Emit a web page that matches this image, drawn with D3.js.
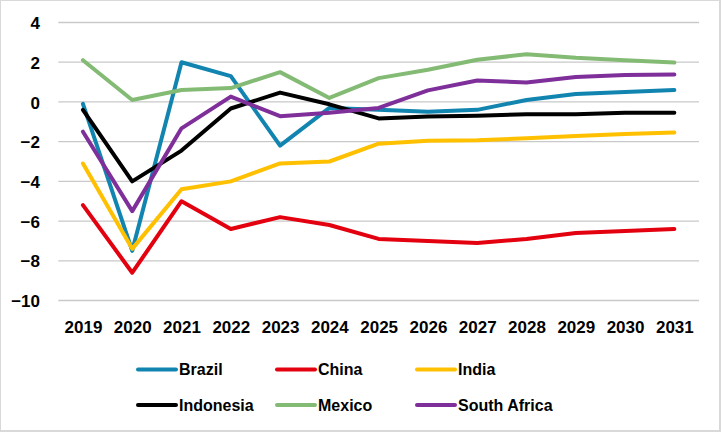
<!DOCTYPE html>
<html>
<head>
<meta charset="utf-8">
<script src="https://cdn.jsdelivr.net/npm/d3@7"></script>
<style>
  html, body { margin: 0; padding: 0; background: #fff; }
  svg { display: block; }
  text { font-family: "Liberation Sans", Arial, sans-serif; font-weight: bold; fill: #000; }
</style>
</head>
<body>
<svg id="chart" width="721" height="433"></svg>
<script>
const years = ["2019","2020","2021","2022","2023","2024","2025","2026","2027","2028","2029","2030","2031"];
const brazil      = [-0.1, -7.5, 2.0, 1.3, -2.2, -0.3, -0.4, -0.5, -0.4, 0.1, 0.4, 0.5, 0.6];
const china       = [-5.2, -8.6, -5.0, -6.4, -5.8, -6.2, -6.9, -7.0, -7.1, -6.9, -6.6, -6.5, -6.4];
const india       = [-3.1, -7.4, -4.4, -4.0, -3.1, -3.0, -2.1, -1.95, -1.93, -1.83, -1.71, -1.62, -1.54];
const indonesia   = [-0.4, -4.0, -2.45, -0.33, 0.47, -0.12, -0.83, -0.74, -0.7, -0.62, -0.62, -0.55, -0.55];
const mexico      = [2.1, 0.1, 0.6, 0.7, 1.5, 0.2, 1.2, 1.62, 2.12, 2.4, 2.22, 2.1, 1.98];
const southAfrica = [-1.5, -5.5, -1.33, 0.27, -0.72, -0.55, -0.3, 0.58, 1.08, 0.98, 1.26, 1.36, 1.38];
const yTicks = [4, 2, 0, -2, -4, -6, -8, -10];

const seriesNames  = ["Brazil", "China", "India", "Indonesia", "Mexico", "South Africa"];
const seriesValues = [brazil, china, india, indonesia, mexico, southAfrica];
const seriesColors = ["#1184B0", "#E3000F", "#FFC000", "#000000", "#84BB74", "#7F2F9A"];

const svg = d3.select("#chart");

// outer border
svg.append("rect").attr("x", 0).attr("y", 0).attr("width", 720).attr("height", 431)
  .attr("fill", "#fff").attr("stroke", "#D9D9D9").attr("stroke-width", 2);

const plotLeft = 58.3, plotRight = 699, yTop = 22.5, yBottom = 300.5;

const x = d3.scalePoint().domain(years).range([plotLeft, plotRight]).padding(0.5);
const y = d3.scaleLinear().domain([-10, 4]).range([yBottom, yTop]);

// gridlines
svg.append("g").selectAll("line").data(yTicks).join("line")
  .attr("x1", plotLeft).attr("x2", plotRight)
  .attr("y1", d => y(d)).attr("y2", d => y(d))
  .attr("stroke", "#C9C9C9").attr("stroke-width", 1.3);

// y axis labels
const yAxis = d3.axisLeft(y).tickValues(yTicks).tickSize(0).tickPadding(0).tickFormat(d3.format("d"));
const yg = svg.append("g").attr("transform", "translate(40,0)").call(yAxis);
yg.select(".domain").remove();
yg.selectAll("text").attr("font-size", 17).attr("font-family", "Liberation Sans, Arial, sans-serif")
  .attr("font-weight", "bold").attr("fill", "#000").attr("dy", "0.36em");

// x axis labels
const xAxis = d3.axisBottom(x).tickSize(0).tickPadding(0);
const xg = svg.append("g").attr("transform", "translate(0,320)").call(xAxis);
xg.select(".domain").remove();
xg.selectAll("text").attr("font-size", 17).attr("font-family", "Liberation Sans, Arial, sans-serif")
  .attr("font-weight", "bold").attr("fill", "#000").attr("dy", "0.35em").attr("y", 7);

// lines
const line = d3.line().x((d, i) => x(years[i])).y(d => y(d));
svg.append("g").selectAll("path").data(seriesValues).join("path")
  .attr("d", d => line(d))
  .attr("fill", "none")
  .attr("stroke", (d, i) => seriesColors[i])
  .attr("stroke-width", 4)
  .attr("stroke-linejoin", "round")
  .attr("stroke-linecap", "round");

// legend
const legX = [138, 277, 417];
const legY = [369.5, 405];
const leg = svg.append("g").selectAll("g").data(seriesNames).join("g")
  .attr("transform", (d, i) => `translate(${legX[i % 3]},${legY[Math.floor(i / 3)]})`);
leg.append("line").attr("x1", 0).attr("x2", 38).attr("y1", 0).attr("y2", 0)
  .attr("stroke", (d, i) => seriesColors[i]).attr("stroke-width", 4).attr("stroke-linecap", "round");
leg.append("text").attr("x", 41).attr("y", 0).attr("dy", "0.36em")
  .attr("font-size", 16).text(d => d);
</script>
</body>
</html>
